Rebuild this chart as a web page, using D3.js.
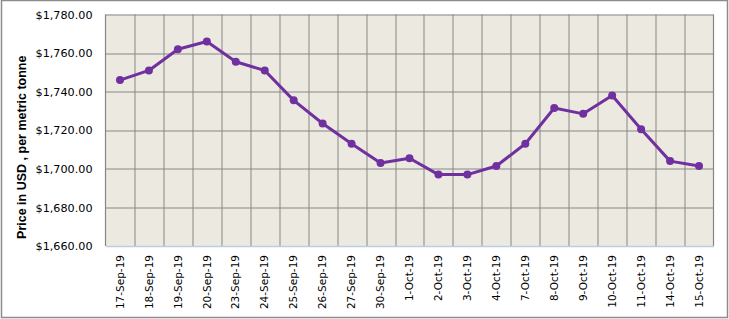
<!DOCTYPE html>
<html>
<head>
<meta charset="utf-8">
<script src="https://cdn.jsdelivr.net/npm/d3@7"></script>
<style>
  body { margin: 0; background: #fff; }
  svg { display: block; }
</style>
</head>
<body>
<div class="holder"></div>
<script>
// chart data
var dates = ["17-Sep-19", "18-Sep-19", "19-Sep-19", "20-Sep-19", "23-Sep-19", "24-Sep-19",
  "25-Sep-19", "26-Sep-19", "27-Sep-19", "30-Sep-19", "1-Oct-19", "2-Oct-19", "3-Oct-19",
  "4-Oct-19", "7-Oct-19", "8-Oct-19", "9-Oct-19", "10-Oct-19", "11-Oct-19", "14-Oct-19", "15-Oct-19"];
var prices = [1746, 1751, 1762, 1766, 1755.5, 1751, 1735.5, 1723.5, 1713, 1703, 1705.5,
  1697, 1697, 1701.5, 1713, 1731.5, 1728.5, 1738, 1720.5, 1704, 1701.5];
var yTicks = [1660, 1680, 1700, 1720, 1740, 1760, 1780];
var yTitle = "Price in USD , per metric tonne";

var width = 729;
var height = 319;
var marginTop = 14.5;
var marginLeft = 105.5;
var marginRight = 15.5;
var marginBottom = 73;
var plotW = width - marginLeft - marginRight;
var plotH = height - marginTop - marginBottom;

var chart = d3.select(".holder")
  .append("svg")
  .attr("width", width)
  .attr("height", height);

// outer chart border
chart.append("rect")
  .attr("x", 1.5).attr("y", 0.5)
  .attr("width", width - 3).attr("height", height - 2)
  .style("fill", "#fff")
  .style("stroke", "#8c8c8c")
  .style("stroke-width", 1.5);

var x = d3.scaleBand().domain(dates).range([0, plotW]);
var y = d3.scaleLinear().domain([1660, 1780]).range([plotH, 0]);

var g = chart.append("g")
  .attr("transform", "translate(" + marginLeft + "," + marginTop + ")");

g.append("rect")
  .attr("width", plotW).attr("height", plotH)
  .style("fill", "#ECEAE0");

// vertical grid lines at band edges
g.selectAll(".vgrid")
  .data(dates.slice(1))
  .enter().append("line")
  .attr("x1", function(d) { return Math.round(x(d)) + 0.5; })
  .attr("x2", function(d) { return Math.round(x(d)) + 0.5; })
  .attr("y1", 0).attr("y2", plotH)
  .style("stroke", "#858585");

// horizontal grid lines (top one doubles as the plot's top border)
g.selectAll(".hgrid")
  .data(yTicks.slice(1))
  .enter().append("line")
  .attr("x1", 0).attr("x2", plotW)
  .attr("y1", function(d) { return Math.round(y(d)) + 0.5; })
  .attr("y2", function(d) { return Math.round(y(d)) + 0.5; })
  .style("stroke", "#858585")
  .style("stroke-width", 1.2);

// plot border (left, right)
g.append("line").attr("x1", 0).attr("x2", 0).attr("y1", 0).attr("y2", plotH).style("stroke", "#858585").style("stroke-width", 1.2);
g.append("line").attr("x1", plotW).attr("x2", plotW).attr("y1", 0).attr("y2", plotH).style("stroke", "#858585").style("stroke-width", 1.2);

// y axis labels
var yAxis = d3.axisLeft(y)
  .tickValues(yTicks)
  .tickSize(0)
  .tickPadding(13)
  .tickFormat(function(d) { return "$" + d3.format(",.2f")(d); });
var ya = g.append("g").call(yAxis);
ya.select(".domain").remove();
ya.selectAll("text")
  .style("font-family", "DejaVu Sans, Verdana, sans-serif")
  .style("font-size", "11.2px")
  .style("fill", "#000");

// x axis
var xAxis = d3.axisBottom(x).tickSize(0).tickPadding(0);
var xa = g.append("g")
  .attr("transform", "translate(0," + plotH + ")")
  .call(xAxis);
xa.select(".domain")
  .style("stroke", "#B9CDE5")
  .style("stroke-width", 1.5);
xa.selectAll("text")
  .attr("transform", "rotate(-90)")
  .attr("x", -9)
  .attr("y", 0)
  .attr("dy", "0.35em")
  .style("text-anchor", "end")
  .style("font-family", "DejaVu Sans, Verdana, sans-serif")
  .style("font-size", "10.5px")
  .style("fill", "#000");

// y title
chart.append("text")
  .attr("transform", "translate(26," + (marginTop + plotH / 2 + 17) + ") rotate(-90)")
  .style("text-anchor", "middle")
  .style("font-family", "Liberation Sans, Arial, sans-serif")
  .style("font-weight", "bold")
  .style("font-size", "12.5px")
  .text(yTitle);

// series
var line = d3.line()
  .x(function(d, i) { return x(dates[i]) + x.bandwidth() / 2; })
  .y(function(d) { return y(d); });

g.append("path")
  .datum(prices)
  .attr("d", line)
  .style("fill", "none")
  .style("stroke", "#7030A0")
  .style("stroke-width", 3)
  .style("stroke-linejoin", "round");

g.selectAll(".dot")
  .data(prices)
  .enter().append("circle")
  .attr("cx", function(d, i) { return x(dates[i]) + x.bandwidth() / 2; })
  .attr("cy", function(d) { return y(d); })
  .attr("r", 4)
  .style("fill", "#7030A0");
</script>
</body>
</html>
